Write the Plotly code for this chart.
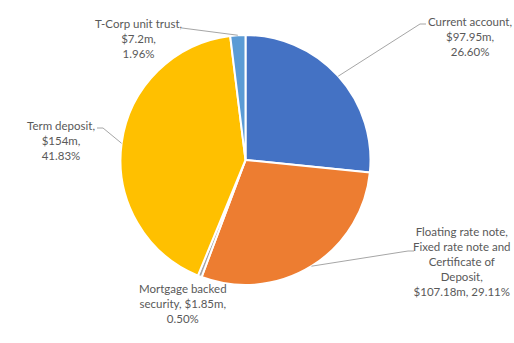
import math
import plotly.graph_objects as go

# Portfolio holdings by investment type ($ millions)
categories = [
    "Current account",
    "Floating rate note,<br>Fixed rate note and<br>Certificate of<br>Deposit",
    "Mortgage backed<br>security",
    "Term deposit",
    "T-Corp unit trust",
]
values = [97.95, 107.18, 1.85, 154, 7.2]
colors = ["#4472C4", "#ED7D31", "#A5A5A5", "#FFC000", "#5B9BD5"]

# separators between name / amount / percent in each data label
sep_name_value = ["<br>", "<br>", " ", "<br>", "<br>"]
sep_value_pct = ["<br>", " ", "<br>", "<br>", "<br>"]

# label placement (pixel centre of text block) and elbow of leader line
label_pos = [(470, 36), (462, 261), (183, 303), (61, 140), (138, 39)]
elbow_pts = [(420, 24), (408, 251), None, (103, 128), (182, 28)]
elbow_end = [(426, 24), (414, 251), None, (97, 128), None]

W, H = 514, 343
CX, CY, R = 245.5, 160, 125

fig = go.Figure(
    go.Pie(
        labels=[c.replace("<br>", " ") for c in categories],
        values=values,
        sort=False,
        direction="clockwise",
        rotation=0,
        textinfo="none",
        hoverinfo="label+value+percent",
        marker=dict(colors=colors, line=dict(color="white", width=2)),
        domain=dict(
            x=[(CX - R) / W, (CX + R) / W],
            y=[1 - (CY + R) / H, 1 - (CY - R) / H],
        ),
        showlegend=False,
    )
)

def px(x, y):
    return x / W, 1 - y / H

total = sum(values)
annotations = []
shapes = []
cum = 0.0
for i, v in enumerate(values):
    frac = v / total
    mid = (cum + frac / 2) * 2 * math.pi
    cum += frac
    ex = CX + R * math.sin(mid)
    ey = CY - R * math.cos(mid)

    text = f"{categories[i]},{sep_name_value[i]}${v:g}m,{sep_value_pct[i]}{frac * 100:.2f}%"
    lx, ly = px(*label_pos[i])
    annotations.append(
        dict(
            x=lx, y=ly, xref="paper", yref="paper",
            text=text, showarrow=False,
            xanchor="center", yanchor="middle", align="center",
            font=dict(family="Lato, Liberation Sans, sans-serif", size=11.5, color="#595959"),
        )
    )

    if elbow_pts[i] is not None:
        pts = [(ex, ey), elbow_pts[i]]
        if elbow_end[i] is not None:
            pts.append(elbow_end[i])
        path = "M " + " L ".join(f"{px(a, b)[0]},{px(a, b)[1]}" for a, b in pts)
        shapes.append(
            dict(type="path", path=path, xref="paper", yref="paper",
                 line=dict(color="#A6A6A6", width=1))
        )

fig.update_layout(
    width=W, height=H,
    margin=dict(l=0, r=0, t=0, b=0),
    paper_bgcolor="white",
    plot_bgcolor="white",
    annotations=annotations,
    shapes=shapes,
)

fig.write_html("out.html")
